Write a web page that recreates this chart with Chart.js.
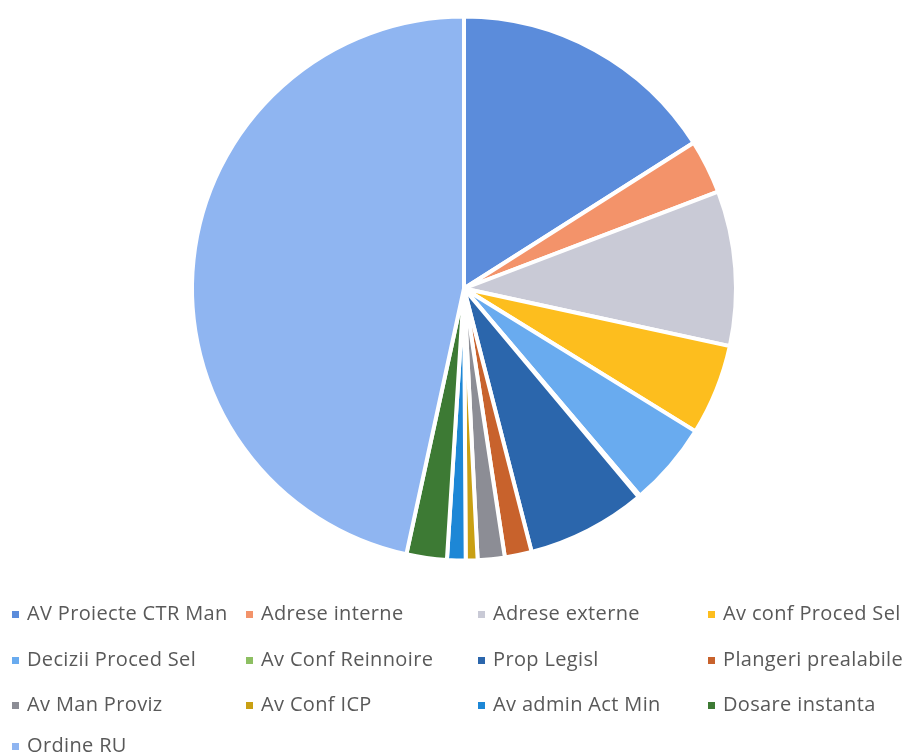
<!DOCTYPE html>
<html>
<head>
<meta charset="utf-8">
<script src="https://cdn.jsdelivr.net/npm/chart.js@4.4.1/dist/chart.umd.min.js"></script>
<style>
  html, body { margin: 0; padding: 0; background: #ffffff; }
  #wrap { width: 906px; height: 755px; position: relative; }
</style>
</head>
<body>
<div id="wrap"><canvas id="c" width="906" height="755"></canvas></div>
<script>
const categories = [
  "AV Proiecte CTR Man", "Adrese interne", "Adrese externe", "Av conf Proced Sel",
  "Decizii Proced Sel", "Av Conf Reinnoire", "Prop Legisl", "Plangeri prealabile",
  "Av Man Proviz", "Av Conf ICP", "Av admin Act Min", "Dosare instanta",
  "Ordine RU"
];
const values = [160, 32, 92, 54, 50, 1, 71, 16, 16, 7, 11, 24, 466];
const colors = [
  "#5B8CDB", "#F3936A", "#C9CAD6", "#FDBE1E",
  "#69ABEF", "#8DBF62", "#2B66AC", "#C8622C",
  "#8C8D95", "#C9A013", "#1D87D6", "#3D7A34",
  "#8FB5F1"
];

const gridLegend = {
  id: 'gridLegend',
  afterDraw(chart) {
    const ctx = chart.ctx;
    const labels = chart.data.labels;
    const bg = chart.data.datasets[0].backgroundColor;
    const colX = [12, 246, 478, 708];
    const rowY = [614, 660, 705, 746];
    ctx.save();
    ctx.font = '20px "Open Sans"';
    if ('letterSpacing' in ctx) ctx.letterSpacing = '0.35px';
    ctx.textBaseline = 'middle';
    ctx.textAlign = 'left';
    labels.forEach((lab, i) => {
      const col = i % 4, row = Math.floor(i / 4);
      const x = colX[col], y = rowY[row];
      ctx.fillStyle = bg[i];
      ctx.fillRect(x, y - 3, 7, 7);
      ctx.fillStyle = '#595959';
      ctx.fillText(lab, x + 15, y);
    });
    ctx.restore();
  }
};

new Chart(document.getElementById('c'), {
  type: 'pie',
  data: {
    labels: categories,
    datasets: [{
      data: values,
      backgroundColor: colors,
      borderColor: '#ffffff',
      borderWidth: 4
    }]
  },
  options: {
    responsive: false,
    animation: false,
    layout: { padding: { top: 14, left: 190, right: 168, bottom: 192 } },
    plugins: {
      legend: { display: false },
      tooltip: { enabled: false }
    }
  },
  plugins: [gridLegend]
});
</script>
</body>
</html>
